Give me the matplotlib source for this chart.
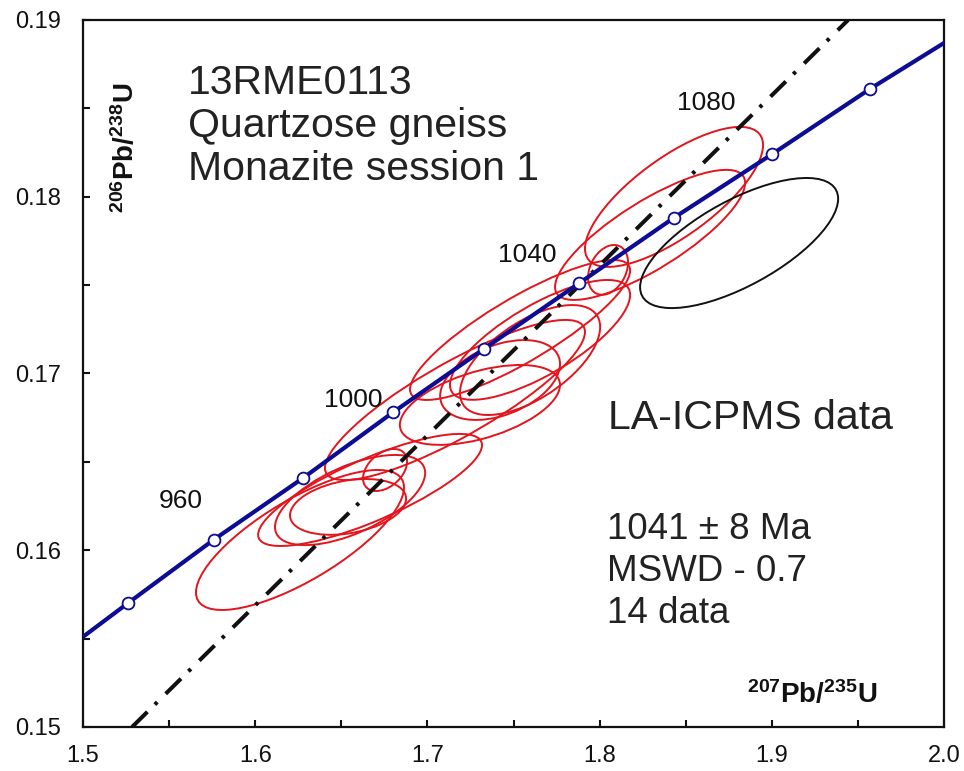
import numpy as np
import matplotlib
matplotlib.use("Agg")
import matplotlib.pyplot as plt
from matplotlib.patches import Ellipse
from matplotlib.ticker import MultipleLocator

plt.rcParams['font.family'] = ['Liberation Sans', 'DejaVu Sans']
plt.rcParams['mathtext.fontset'] = 'custom'
plt.rcParams['mathtext.rm'] = 'Liberation Sans'
plt.rcParams['mathtext.bf'] = 'Liberation Sans:bold'
plt.rcParams['lines.scale_dashes'] = False

# concordia curve, end points plus age markers (940-1100 Ma every 20 Ma)
conc_x = [1.500, 1.526, 1.576, 1.628, 1.680, 1.733, 1.788, 1.843, 1.900, 1.957, 2.000]
conc_y = [0.1551, 0.1570, 0.1606, 0.1641, 0.1678, 0.1714, 0.1751, 0.1788, 0.1824, 0.1861, 0.1887]
marker_ages = [940, 960, 980, 1000, 1020, 1040, 1060, 1080, 1100]

age_labels = ["960", "1000", "1040", "1080"]
age_label_x = [1.557, 1.657, 1.758, 1.862]
age_label_y = [0.1628, 0.1685, 0.1767, 0.1853]

# regression (discordia) line
disc_x = [1.5285, 1.9443]
disc_y = [0.150, 0.190]

# analyses: 207/235, 206/238, 2-sigma half extents, error correlation
ell_x   = [1.6260, 1.6667, 1.6551, 1.6539, 1.6754, 1.7160, 1.7305, 1.7422, 1.7596, 1.7654, 1.7538, 1.8049, 1.8432, 1.8293]
ell_y   = [0.16058, 0.16341, 0.16284, 0.16245, 0.16454, 0.16850, 0.16822, 0.16963, 0.17076, 0.17190, 0.17246, 0.17586, 0.17999, 0.17784]
ell_sx  = [0.0604, 0.0650, 0.0436, 0.0337, 0.0128, 0.0755, 0.0465, 0.0348, 0.0407, 0.0523, 0.0639, 0.0116, 0.0517, 0.0552]
ell_sy  = [0.00396, 0.00317, 0.00255, 0.00158, 0.00119, 0.00453, 0.00226, 0.00226, 0.00311, 0.00339, 0.00396, 0.00141, 0.00396, 0.00368]
ell_rho = [0.75, 0.80, 0.60, 0.30, 0.40, 0.85, 0.50, 0.40, 0.60, 0.75, 0.85, 0.30, 0.74, 0.80]

# rejected analysis
rej_x, rej_y, rej_sx, rej_sy, rej_rho = 1.8810, 0.17738, 0.0575, 0.00368, 0.68

sample_lines = ["13RME0113", "Quartzose gneiss", "Monazite session 1"]
result_lines = ["1041 \u00b1 8 Ma", "MSWD - 0.7", "14 data"]


def error_ellipse(x, y, sx, sy, rho, color):
    cov = np.array([[sx * sx, rho * sx * sy], [rho * sx * sy, sy * sy]])
    vals, vecs = np.linalg.eigh(cov)
    order = vals.argsort()[::-1]
    vals, vecs = vals[order], vecs[:, order]
    angle = np.degrees(np.arctan2(vecs[1, 0], vecs[0, 0]))
    return Ellipse((x, y), 2 * np.sqrt(vals[0]), 2 * np.sqrt(vals[1]), angle=angle,
                   fill=False, edgecolor=color, linewidth=1.4)


fig = plt.figure(figsize=(9.64, 7.71), dpi=100)
ax = fig.add_axes([0.0861, 0.0571, 0.8932, 0.9170])

for i in range(len(ell_x)):
    ax.add_patch(error_ellipse(ell_x[i], ell_y[i], ell_sx[i], ell_sy[i], ell_rho[i], '#e3141c'))
ax.add_patch(error_ellipse(rej_x, rej_y, rej_sx, rej_sy, rej_rho, '#111111'))

ax.plot(disc_x, disc_y, color='#111111', linewidth=2.9,
        linestyle=(0, (15.5, 7.5, 2.5, 8.5)), zorder=3)

ax.plot(conc_x, conc_y, color='#0c0c94', linewidth=3.0, zorder=4)
ax.plot(conc_x[1:-1], conc_y[1:-1], linestyle='none', marker='o', markersize=8.5,
        markerfacecolor='white', markeredgecolor='#0c0c94', markeredgewidth=1.3, zorder=5)

for lab, lx, ly in zip(age_labels, age_label_x, age_label_y):
    ax.text(lx, ly, lab, fontsize=19, ha='center', va='center', color='#111111')

# sample block, baselines 43 px apart
for k, line in enumerate(sample_lines):
    ax.text(0.122, (727 - 94 - 43 * k) / 707, line, transform=ax.transAxes,
            fontsize=29.5, va='baseline', ha='left', color='#222222')
ax.text(0.610, (727 - 429) / 707, "LA-ICPMS data", transform=ax.transAxes, fontsize=29.5,
        va='baseline', ha='left', color='#222222')
for k, line in enumerate(result_lines):
    ax.text(0.609, (727 - 539 - 42 * k) / 707, line, transform=ax.transAxes,
            fontsize=26.5, va='baseline', ha='left', color='#222222')

ax.text(0.923, 0.034, r'$\mathbf{^{207}Pb/^{235}U}$', transform=ax.transAxes,
        fontsize=20, ha='right', va='baseline', color='#111111')
ax.text(0.049, 0.819, r'$\mathbf{^{206}Pb/^{238}U}$', transform=ax.transAxes,
        fontsize=20, ha='center', va='center', rotation=90, color='#111111')

ax.set_xlim(1.5, 2.0)
ax.set_ylim(0.15, 0.19)
ax.xaxis.set_major_locator(MultipleLocator(0.1))
ax.xaxis.set_minor_locator(MultipleLocator(0.05))
ax.yaxis.set_major_locator(MultipleLocator(0.01))
ax.yaxis.set_minor_locator(MultipleLocator(0.005))
ax.xaxis.set_major_formatter(lambda v, p: f"{v:.1f}")
ax.yaxis.set_major_formatter(lambda v, p: f"{v:.2f}")
ax.tick_params(which='both', direction='in', length=5, width=1.5, top=False, right=False,
               labelsize=17, colors='#111111')
ax.tick_params(axis='x', pad=13)
ax.tick_params(axis='y', pad=16)
for s in ax.spines.values():
    s.set_linewidth(1.6)
    s.set_color('#111111')

fig.savefig("out.png", dpi=100)
